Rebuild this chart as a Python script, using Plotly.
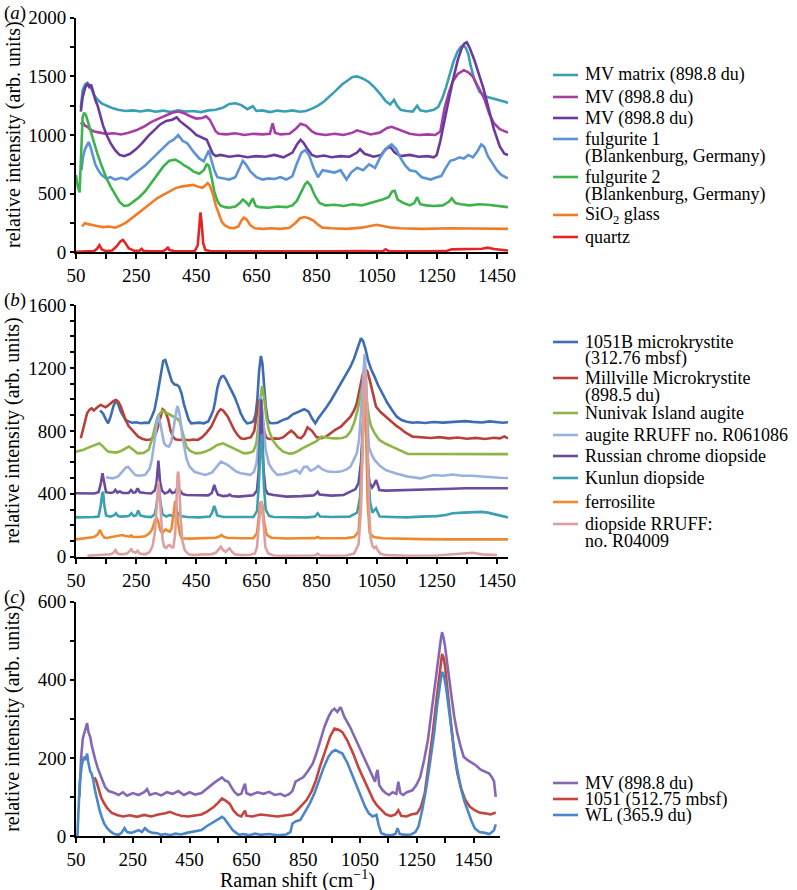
import plotly.graph_objects as go

# ---------------- data ----------------
# Panel (a)
A_NAMES = [["MV matrix (898.8 du)"], ["MV (898.8 du)"], ["MV (898.8 du)"],
           ["fulgurite 1", "(Blankenburg, Germany)"], ["fulgurite 2", "(Blankenburg, Germany)"],
           ["SiO<sub>2</sub> glass"], ["quartz"]]
A_COLORS = ["#3a9fb4", "#a43fa5", "#6b3b9b", "#5c93d4", "#3cb44b", "#f07c29", "#e42526"]

A_MATRIX = [(66,1230),(72,1380),(80,1430),(88,1445),(94,1420),(100,1400),(110,1340),(122,1300),(135,1270),
            (150,1250),(170,1230),(190,1215),(215,1205),(240,1210),(265,1200),(290,1212),(315,1198),(340,1208),
            (365,1195),(390,1210),(415,1200),(440,1205),(465,1195),(490,1210),(515,1215),(540,1235),(560,1265),
            (580,1270),(600,1255),(620,1220),(638,1245),(650,1205),(670,1210),(695,1195),(720,1208),(745,1200),
            (770,1210),(795,1198),(815,1205),(835,1225),(855,1250),(875,1285),(895,1330),(915,1380),(935,1430),
            (955,1470),(970,1495),(985,1500),(1005,1480),(1025,1450),(1045,1400),(1065,1340),(1080,1290),
            (1095,1260),(1108,1300),(1118,1250),(1130,1215),(1150,1205),(1170,1200),(1185,1250),(1195,1210),
            (1215,1200),(1240,1215),(1255,1240),(1268,1310),(1280,1400),(1292,1510),(1305,1620),(1319,1710),
            (1330,1750),(1338,1766),(1346,1745),(1355,1690),(1362,1600),(1375,1470),(1392,1370),(1410,1330),
            (1430,1315),(1450,1300),(1470,1290),(1482,1280),(1487,1270)]
A_MV1 = [(66,1090),(72,1110),(80,1080),(88,1070),(96,1050),(110,1030),(130,1020),(150,1010),(175,1015),
         (200,1005),(225,1020),(250,1040),(275,1070),(300,1110),(325,1140),(350,1170),(370,1190),(390,1200),
         (410,1185),(430,1160),(450,1140),(470,1145),(483,1160),(495,1130),(505,1080),(515,1030),(525,1010),
         (550,1005),(580,1015),(610,1000),(640,1010),(670,1005),(695,1010),(704,1100),(712,1020),(730,1005),
         (760,1010),(780,1050),(797,1095),(815,1080),(835,1030),(850,1010),(880,1000),(910,1010),(940,1000),
         (970,1020),(985,1040),(1000,1030),(1030,1005),(1060,1020),(1085,1060),(1100,1070),(1130,1040),
         (1160,1010),(1190,1000),(1220,1005),(1245,1000),(1262,1030),(1276,1230),(1290,1360),(1303,1455),
         (1320,1520),(1340,1553),(1355,1535),(1371,1495),(1390,1400),(1408,1310),(1425,1180),(1440,1100),
         (1460,1050),(1475,1030),(1487,1020)]
A_MV2 = [(66,1200),(72,1320),(80,1400),(88,1440),(94,1410),(100,1430),(106,1380),(114,1300),(122,1250),
         (130,1170),(140,1080),(152,1000),(165,930),(180,870),(195,830),(210,820),(230,840),(250,880),(270,930),
         (290,990),(310,1040),(330,1090),(350,1120),(370,1130),(385,1150),(395,1120),(410,1090),(430,1050),
         (450,1000),(470,980),(485,960),(495,900),(505,840),(515,820),(530,830),(560,815),(590,825),(620,810),
         (650,820),(680,815),(710,830),(740,810),(770,850),(785,920),(797,960),(808,930),(820,880),(835,830),
         (850,815),(875,825),(900,810),(930,820),(960,815),(985,850),(995,880),(1010,840),(1040,815),(1065,830),
         (1080,880),(1095,900),(1110,850),(1130,820),(1160,830),(1190,815),(1220,820),(1240,810),(1250,830),
         (1262,950),(1275,1100),(1290,1300),(1305,1480),(1320,1640),(1333,1740),(1342,1780),(1350,1790),
         (1360,1740),(1375,1640),(1390,1520),(1405,1400),(1420,1250),(1440,1050),(1460,900),(1475,840),(1487,830)]
A_FUL1 = [(68,700),(74,820),(80,880),(86,910),(92,940),(98,900),(106,820),(114,750),(124,700),(135,660),
          (150,630),(165,640),(180,620),(200,635),(220,620),(240,660),(260,700),(280,740),(300,790),(320,840),
          (340,890),(360,940),(375,960),(390,1000),(405,950),(420,930),(440,860),(460,800),(475,775),(485,840),
          (492,870),(500,790),(510,700),(520,640),(540,630),(560,620),(580,640),(595,720),(605,780),(615,750),
          (630,690),(650,640),(670,620),(690,630),(710,625),(730,640),(750,620),(770,650),(785,760),(800,850),
          (812,870),(825,830),(840,720),(855,640),(870,700),(890,690),(910,680),(930,700),(950,620),(965,680),
          (985,720),(1005,700),(1025,750),(1045,720),(1060,800),(1075,860),(1088,900),(1100,920),(1115,880),
          (1130,800),(1145,740),(1160,700),(1180,690),(1200,640),(1215,630),(1230,620),(1250,640),(1265,650),
          (1280,720),(1295,780),(1310,790),(1325,810),(1340,800),(1355,830),(1370,810),(1385,860),(1398,920),
          (1408,900),(1420,820),(1435,760),(1450,700),(1465,660),(1478,640),(1487,630)]
A_FUL2 = [(50,660),(56,560),(62,510),(67,800),(72,1150),(77,1190),(83,1170),(90,1110),(98,1040),(108,950),
          (120,850),(135,740),(150,640),(165,560),(180,490),(195,430),(210,395),(225,400),(240,430),(260,470),
          (280,520),(300,590),(320,660),(340,730),(360,780),(380,790),(395,770),(410,740),(425,720),(440,690),
          (460,670),(475,700),(485,750),(492,740),(500,650),(510,520),(520,440),(530,400),(545,385),(560,380),
          (580,390),(595,420),(605,450),(615,430),(625,400),(638,460),(648,395),(660,385),(690,380),(720,390),
          (750,385),(770,400),(785,440),(800,520),(812,580),(820,600),(830,570),(845,480),(860,420),(880,400),
          (910,405),(940,395),(970,410),(1000,400),(1030,420),(1055,440),(1070,450),(1090,470),(1102,520),
          (1110,525),(1120,450),(1140,420),(1160,400),(1175,420),(1185,470),(1195,410),(1215,400),(1240,395),
          (1270,400),(1290,430),(1300,460),(1312,420),(1330,410),(1360,400),(1390,410),(1420,405),(1450,395),
          (1470,390),(1487,385)]
A_SIO2 = [(70,220),(80,250),(90,240),(105,235),(120,225),(140,215),(160,220),(180,210),(200,230),(220,260),
          (240,300),(260,340),(280,380),(300,420),(320,460),(340,490),(360,520),(380,545),(400,560),(420,570),
          (440,575),(455,560),(470,550),(480,570),(488,590),(495,570),(505,500),(515,400),(525,320),(535,260),
          (545,230),(560,210),(575,205),(590,220),(600,270),(608,295),(618,280),(630,230),(645,205),(670,200),
          (700,205),(730,200),(760,210),(780,250),(795,290),(810,300),(825,290),(840,270),(855,235),(870,210),
          (900,205),(950,200),(1000,210),(1030,225),(1050,235),(1070,225),(1100,210),(1130,205),(1200,200),
          (1300,205),(1400,200),(1487,200)]
A_QUARTZ = [(50,5),(80,8),(110,10),(120,30),(128,60),(136,25),(150,10),(170,15),(185,50),(198,95),(206,105),
            (214,80),(225,35),(245,12),(262,15),(268,30),(274,12),(300,8),(340,10),(352,30),(356,45),(360,20),
            (380,8),(420,8),(445,10),(455,60),(460,200),(464,340),(468,250),(473,80),(480,20),(500,8),(600,8),
            (700,6),(800,10),(900,8),(1000,10),(1070,8),(1080,25),(1090,10),(1200,8),(1280,10),(1300,25),
            (1350,25),(1400,30),(1420,40),(1440,28),(1470,20),(1487,15)]
A_SERIES = [A_MATRIX, A_MV1, A_MV2, A_FUL1, A_FUL2, A_SIO2, A_QUARTZ]

# Panel (b)
B_NAMES = [["1051B microkrystite", "(312.76 mbsf)"], ["Millville Microkrystite", "(898.5 du)"],
           ["Nunivak Island augite"], ["augite RRUFF no. R061086"], ["Russian chrome diopside"],
           ["Kunlun diopside"], ["ferrosilite"], ["diopside RRUFF:", "no. R04009"]]
B_COLORS = ["#3e6db0", "#b8403b", "#8db646", "#9ab1de", "#6b4c9c", "#3ba0b0", "#ec8a30", "#dda0a0"]

B_1051B = [(130,930),(140,910),(150,870),(157,848),(165,890),(175,960),(183,990),(190,970),(199,922),(207,890),
           (215,869),(225,860),(236,852),(250,855),(265,848),(280,852),(292,850),(302,890),(311,933),(319,1010),
           (327,1102),(334,1190),(340,1245),(347,1250),(353,1208),(361,1160),(369,1113),(378,1095),(386,1092),
           (393,1080),(401,1039),(409,970),(417,912),(425,870),(433,848),(445,850),(460,852),(475,848),(490,860),
           (500,900),(507,933),(513,990),(520,1070),(527,1120),(534,1145),(541,1149),(548,1130),(555,1102),
           (566,1060),(577,1018),(588,965),(598,912),(609,870),(619,848),(630,852),(640,860),(647,900),(653,996),
           (659,1180),(665,1276),(670,1230),(675,1102),(681,960),(688,869),(696,850),(707,848),(720,852),
           (739,870),(755,880),(771,905),(790,922),(809,937),(817,930),(824,920),(835,880),(846,848),(856,880),
           (867,912),(883,950),(899,996),(915,1050),(931,1102),(947,1160),(963,1208),(975,1260),(984,1314),
           (992,1360),(998,1389),(1005,1370),(1013,1320),(1021,1251),(1032,1190),(1043,1145),(1055,1090),
           (1069,1039),(1085,980),(1101,933),(1117,890),(1133,869),(1150,858),(1170,852),(1186,855),(1210,850),
           (1240,856),(1270,852),(1300,855),(1325,858),(1345,862),(1370,857),(1400,853),(1426,860),(1450,855),
           (1470,852),(1487,855)]
B_MILL = [(66,753),(72,800),(80,870),(87,912),(95,935),(102,943),(109,930),(117,945),(124,955),(132,965),
          (140,960),(148,950),(156,960),(165,975),(175,990),(183,996),(191,985),(199,954),(207,910),(215,869),
          (225,830),(236,806),(247,780),(257,763),(270,750),(284,742),(297,745),(311,760),(320,806),(328,870),
          (334,920),(338,937),(343,930),(350,910),(357,870),(364,806),(372,765),(380,746),(395,742),(410,745),
          (425,740),(440,745),(455,742),(470,760),(485,790),(500,827),(513,880),(523,920),(531,937),(539,930),
          (547,910),(555,890),(565,850),(576,806),(587,775),(598,753),(609,748),(620,755),(632,760),(643,800),
          (652,900),(658,990),(663,1000),(667,960),(671,880),(676,800),(682,760),(690,750),(700,748),(712,752),
          (725,750),(740,760),(755,785),(766,801),(776,785),(787,760),(798,753),(809,775),(820,823),(835,800),
          (850,760),(867,753),(883,765),(899,789),(915,810),(931,827),(947,860),(963,890),(975,930),(984,975),
          (991,1040),(997,1102),(1004,1160),(1011,1198),(1019,1180),(1027,1124),(1037,1040),(1048,954),
          (1063,920),(1080,890),(1093,870),(1106,848),(1117,830),(1128,816),(1145,790),(1170,763),(1200,760),
          (1230,755),(1260,760),(1290,752),(1320,758),(1350,750),(1380,755),(1410,748),(1440,756),(1460,752),
          (1475,765),(1487,752)]
B_NUNIVAK = [(50,668),(60,672),(75,680),(87,690),(100,700),(115,712),(128,721),(140,700),(156,668),(170,665),
             (183,662),(200,672),(215,690),(226,700),(240,680),(255,657),(275,660),(292,680),(302,742),(312,820),
             (320,880),(327,905),(338,929),(350,915),(364,901),(378,890),(385,880),(395,860),(405,780),(417,700),
             (430,672),(449,657),(465,660),(481,668),(500,685),(520,710),(539,721),(558,705),(577,689),(595,670),
             (609,657),(625,660),(640,670),(650,720),(656,827),(662,980),(669,1085),(675,1020),(683,890),
             (692,800),(704,742),(720,700),(739,668),(760,655),(771,657),(787,670),(803,689),(820,705),(835,717),
             (850,735),(867,763),(883,757),(899,753),(915,752),(936,755),(950,765),(963,795),(975,850),(987,933),
             (995,1010),(1002,1080),(1008,1100),(1014,1060),(1020,950),(1026,870),(1032,827),(1045,780),
             (1059,742),(1080,718),(1101,700),(1117,685),(1133,668),(1154,653),(1200,653),(1250,652),(1300,654),
             (1350,652),(1400,653),(1450,652),(1487,652)]
B_AUGITE = [(150,505),(165,500),(172,498),(190,510),(205,540),(215,565),(223,572),(235,545),(247,519),(262,515),
            (280,520),(295,560),(302,615),(310,720),(316,806),(323,901),(328,870),(332,827),(338,760),(343,721),
            (351,705),(359,700),(367,730),(374,800),(380,880),(385,940),(388,958),(392,930),(398,860),(404,760),
            (409,700),(418,620),(428,572),(444,540),(460,530),(480,520),(502,535),(518,570),(532,604),(543,595),
            (555,583),(570,560),(585,540),(598,530),(615,525),(630,520),(642,540),(651,600),(658,760),(665,1020),
            (671,900),(676,760),(681,678),(692,590),(704,551),(720,520),(740,525),(760,535),(782,551),(795,530),
            (808,570),(819,572),(830,545),(845,560),(856,577),(870,555),(888,541),(910,538),(931,541),(950,555),
            (963,572),(975,620),(984,657),(992,750),(998,900),(1004,1100),(1010,1290),(1015,1150),(1019,900),
            (1024,700),(1033,650),(1043,615),(1060,580),(1080,551),(1112,530),(1154,509),(1197,498),(1240,519),
            (1270,515),(1303,522),(1335,515),(1367,515),(1400,510),(1426,505),(1460,502),(1487,500)]
B_RUSSIAN = [(50,403),(70,402),(90,400),(110,402),(125,410),(132,460),(138,530),(144,460),(150,410),(165,405),
             (175,410),(181,425),(188,408),(196,415),(205,405),(225,405),(233,424),(240,408),(248,410),(255,435),
             (262,410),(280,405),(300,402),(312,420),(318,470),(324,611),(330,470),(336,420),(345,402),(356,410),
             (362,425),(370,405),(380,410),(385,430),(390,440),(396,420),(405,398),(417,392),(440,390),(470,388),
             (490,390),(502,405),(506,430),(510,456),(515,425),(522,395),(540,385),(555,388),(561,395),(568,386),
             (590,382),(620,385),(640,390),(652,420),(658,550),(663,800),(666,1000),(669,800),(674,550),(680,430),
             (688,400),(707,392),(730,385),(750,382),(800,385),(840,390),(848,400),(854,413),(860,395),(900,388),
             (940,392),(963,413),(980,430),(990,470),(998,600),(1005,850),(1010,1000),(1015,850),(1020,600),
             (1026,470),(1035,440),(1042,460),(1048,488),(1054,455),(1059,424),(1080,420),(1133,424),(1186,426),
             (1240,428),(1300,432),(1346,435),(1400,435),(1450,434),(1487,435)]
B_KUNLUN = [(50,250),(80,250),(110,252),(125,255),(132,320),(137,400),(140,413),(144,330),(150,262),(165,255),
            (176,262),(183,276),(190,258),(200,255),(226,258),(234,276),(242,258),(250,262),(257,293),(264,262),
            (280,255),(300,252),(312,270),(318,330),(322,400),(327,420),(332,330),(338,270),(350,255),(358,262),
            (364,265),(372,255),(383,262),(390,276),(397,258),(420,252),(460,250),(495,255),(503,280),(508,315),
            (510,322),(514,300),(520,262),(540,252),(600,250),(640,252),(652,290),(658,450),(664,700),(667,780),
            (670,700),(675,450),(681,300),(692,260),(707,252),(760,250),(820,250),(845,255),(854,276),(862,255),
            (900,252),(960,255),(985,280),(995,380),(1002,700),(1008,1000),(1012,1150),(1016,950),(1021,600),
            (1028,350),(1036,280),(1042,295),(1048,307),(1054,280),(1060,255),(1100,252),(1150,250),(1200,255),
            (1250,258),(1280,265),(1303,276),(1340,280),(1370,282),(1400,285),(1420,280),(1445,268),(1470,255),
            (1487,250)]
B_FERRO = [(50,110),(70,115),(90,120),(110,125),(122,140),(130,170),(137,140),(145,120),(160,122),(175,128),
           (190,132),(204,138),(215,132),(228,128),(234,135),(240,125),(260,125),(280,130),(295,150),(302,170),
           (308,200),(313,233),(318,245),(323,225),(330,170),(337,148),(343,165),(348,174),(355,165),(362,160),
           (368,180),(372,240),(376,320),(380,355),(384,320),(389,220),(395,150),(401,117),(430,115),(470,117),
           (500,118),(515,120),(528,130),(534,138),(540,128),(552,120),(600,117),(640,118),(652,150),(658,250),
           (663,340),(667,350),(671,320),(676,220),(684,140),(700,120),(750,116),(800,117),(845,118),(854,125),
           (862,118),(900,117),(950,118),(975,125),(990,160),(998,400),(1005,900),(1010,1100),(1015,800),
           (1020,350),(1027,150),(1040,125),(1070,117),(1100,115),(1150,113),(1200,112),(1300,110),(1400,110),
           (1487,110)]
B_DIOPSIDE = [(88,5),(110,8),(130,10),(150,12),(165,15),(175,25),(181,42),(188,20),(200,15),(220,20),(228,35),
              (234,47),(240,30),(248,25),(255,38),(262,20),(280,15),(295,30),(305,70),(312,150),(318,300),
              (322,430),(324,477),(327,420),(332,250),(338,110),(343,64),(350,55),(356,70),(362,74),(368,60),
              (374,60),(380,150),(384,380),(388,520),(390,541),(393,480),(398,250),(404,100),(412,40),(425,15),
              (440,10),(470,15),(500,15),(515,25),(526,50),(532,64),(538,45),(548,30),(555,45),(561,53),(567,35),
              (578,15),(600,10),(630,12),(645,20),(652,60),(658,200),(663,330),(666,350),(669,320),(674,180),
              (680,60),(690,20),(707,8),(750,6),(800,5),(845,8),(854,20),(862,8),(900,6),(950,8),(975,20),(990,80),
              (998,300),(1003,700),(1008,1050),(1012,1176),(1016,1050),(1020,700),(1025,300),(1030,120),(1036,70),
              (1042,55),(1048,64),(1054,40),(1062,20),(1080,10),(1150,6),(1250,8),(1300,15),(1340,20),(1370,25),
              (1400,15),(1430,10),(1450,10)]
B_SERIES = [B_1051B, B_MILL, B_NUNIVAK, B_AUGITE, B_RUSSIAN, B_KUNLUN, B_FERRO, B_DIOPSIDE]

# Panel (c)
C_NAMES = [["MV (898.8 du)"], ["1051 (512.75 mbsf)"], ["WL (365.9 du)"]]
C_COLORS = ["#8568b4", "#c2463f", "#4b87c8"]
C_MV = [(62,100),(68,200),(74,250),(79,262),(84,280),(89,289),(94,265),(100,254),(106,230),(112,210),(118,195),
        (126,175),(134,160),(142,140),(152,126),(165,115),(183,111),(200,105),(215,112),(230,103),(250,110),
        (270,105),(290,112),(300,120),(310,105),(330,110),(350,104),(370,112),(390,108),(410,115),(430,105),
        (450,112),(470,106),(492,110),(505,118),(520,125),(536,136),(550,143),(564,150),(575,142),(586,139),
        (597,125),(608,113),(620,105),(632,108),(640,125),(645,134),(650,110),(665,105),(690,112),(710,108),
        (730,113),(750,105),(770,108),(785,102),(800,107),(812,115),(823,139),(837,145),(851,151),(868,168),
        (884,186),(898,215),(911,245),(925,280),(939,305),(950,320),(960,326),(970,318),(982,330),(995,305),
        (1015,279),(1030,255),(1048,228),(1065,200),(1081,177),(1095,150),(1103,139),(1108,160),(1112,169),
        (1118,130),(1130,117),(1140,110),(1152,105),(1165,112),(1178,108),(1185,139),(1192,110),(1202,105),
        (1215,112),(1234,117),(1248,130),(1262,151),(1276,195),(1289,245),(1300,310),(1311,373),(1320,430),
        (1328,466),(1334,500),(1339,522),(1345,505),(1350,483),(1360,420),(1371,364),(1382,305),(1393,262),
        (1404,230),(1415,203),(1428,195),(1440,190),(1448,186),(1460,180),(1475,170),(1490,165),(1505,160),
        (1515,150),(1522,140),(1528,100)]
C_1051 = [(115,150),(122,140),(130,120),(138,100),(148,85),(160,71),(175,60),(194,54),(215,50),(240,53),(265,49),
          (290,54),(315,50),(340,55),(365,58),(381,62),(400,56),(420,52),(445,50),(470,53),(492,55),(510,62),
          (525,70),(536,75),(550,85),(564,96),(578,90),(591,83),(605,65),(619,54),(632,50),(640,60),(645,65),
          (650,52),(670,50),(700,55),(730,52),(760,50),(790,53),(810,55),(829,66),(845,78),(862,92),(880,115),
          (895,143),(910,180),(928,220),(945,255),(960,275),(975,272),(988,266),(1005,245),(1026,211),(1045,175),
          (1065,143),(1081,115),(1097,92),(1110,78),(1125,66),(1140,56),(1158,51),(1175,55),(1185,66),(1195,52),
          (1213,50),(1230,55),(1251,58),(1265,75),(1278,109),(1292,180),(1306,262),(1318,340),(1328,407),
          (1334,445),(1339,466),(1345,455),(1350,432),(1360,360),(1371,279),(1382,210),(1393,160),(1407,120),
          (1421,92),(1437,75),(1454,66),(1470,60),(1490,58),(1510,55),(1528,60)]
C_WL = [(55,0),(60,80),(63,134),(70,180),(78,203),(84,195),(89,211),(93,190),(96,177),(100,165),(105,160),
        (111,143),(116,120),(122,100),(128,80),(133,66),(140,50),(149,32),(160,20),(172,11),(185,5),(200,3),
        (210,8),(221,20),(230,10),(245,8),(260,12),(271,15),(282,10),(293,20),(305,12),(320,8),(337,7),(350,3),
        (365,5),(380,2),(400,6),(420,4),(440,8),(460,10),(475,12),(492,15),(510,25),(525,32),(536,38),(547,41),
        (556,45),(564,49),(572,45),(580,37),(591,25),(602,15),(614,8),(625,3),(640,5),(660,2),(680,6),(700,3),
        (730,5),(760,2),(790,4),(805,10),(812,32),(825,38),(840,41),(856,60),(873,83),(890,110),(906,143),
        (922,175),(939,203),(951,215),(963,220),(975,215),(988,211),(1005,188),(1021,160),(1038,130),(1054,100),
        (1068,75),(1081,58),(1095,50),(1108,54),(1115,30),(1125,7),(1140,3),(1160,2),(1175,5),(1182,20),
        (1190,5),(1210,3),(1230,4),(1245,10),(1256,24),(1270,70),(1284,126),(1297,190),(1311,262),(1321,330),
        (1331,390),(1337,415),(1341,420),(1347,405),(1353,381),(1365,310),(1377,245),(1390,180),(1404,126),
        (1418,88),(1432,58),(1443,38),(1454,20),(1470,10),(1490,8),(1505,5),(1515,10),(1522,15),(1528,30)]
C_SERIES = [C_MV, C_1051, C_WL]

Y_TITLE = "relative intensity (arb. units)"
X_TITLE = "Raman shift (cm<sup>\u22121</sup>)"
PANEL_LABELS = ["(<i>a</i>)", "(<i>b</i>)", "(<i>c</i>)"]

# legend rows (pixel centre of each entry's first text line) for the three panels
LEG_ROWS_A = [75, 97, 118, 139, 177, 215, 237]
LEG_ROWS_B = [342, 378, 413, 435, 456, 478, 502, 524]
LEG_ROWS_C = [783, 799, 815]
LEG_LINE_GAP = 17

# ---------------- layout ----------------
W, H = 797, 890
FONT = "Liberation Serif"


def fx(p):
    return p / W


def fy(p):
    return 1 - p / H


fig = go.Figure()

panels = [
    dict(series=A_SERIES, names=A_NAMES, colors=A_COLORS, xref="x", yref="y", rows=LEG_ROWS_A),
    dict(series=B_SERIES, names=B_NAMES, colors=B_COLORS, xref="x2", yref="y2", rows=LEG_ROWS_B),
    dict(series=C_SERIES, names=C_NAMES, colors=C_COLORS, xref="x3", yref="y3", rows=LEG_ROWS_C),
]
annotations = []
shapes = []
for p in panels:
    for data, name, col, row in zip(p["series"], p["names"], p["colors"], p["rows"]):
        fig.add_trace(go.Scatter(
            x=[d[0] for d in data], y=[d[1] for d in data], mode="lines", name=" ".join(name),
            line=dict(color=col, width=2.6), xaxis=p["xref"], yaxis=p["yref"],
            hoverinfo="skip", showlegend=False))
        # legend key + text
        shapes.append(dict(type="line", xref="paper", yref="paper", x0=fx(553), x1=fx(578),
                           y0=fy(row), y1=fy(row), line=dict(color=col, width=2.6)))
        for k, txt in enumerate(name):
            annotations.append(dict(text=txt, x=fx(583), y=fy(row + k * LEG_LINE_GAP), xref="paper",
                                    yref="paper", xanchor="left", yanchor="middle", showarrow=False,
                                    font=dict(family=FONT, size=18, color="black")))

tickfont = dict(family=FONT, size=19, color="black")


def xax(domain_px, rng, anchor):
    return dict(domain=[fx(domain_px[0]), fx(domain_px[1])], range=rng, anchor=anchor,
                tickmode="linear", tick0=50, dtick=200, ticks="outside", ticklen=5, tickwidth=1.5,
                tickcolor="black", showline=True, linecolor="black", linewidth=2, showgrid=False,
                zeroline=False, tickfont=tickfont, fixedrange=True,
                minor=dict(tick0=50, dtick=100, ticks="outside", ticklen=5, tickwidth=1.5,
                           tickcolor="black", showgrid=False))


def yax(domain_px, rng, dtick, minor, anchor):
    return dict(domain=[fy(domain_px[1]), fy(domain_px[0])], range=rng, anchor=anchor,
                tickmode="linear", tick0=0, dtick=dtick, ticks="outside", ticklen=4, tickwidth=1.5,
                tickcolor="black", showline=True, linecolor="black", linewidth=2, showgrid=False,
                zeroline=False, tickfont=tickfont, fixedrange=True,
                minor=dict(tick0=0, dtick=minor, ticks="outside", ticklen=4, tickwidth=1.5,
                           tickcolor="black", showgrid=False))


panel_tops = [17.7, 305, 601.7]
panel_bottoms = [252.3, 556.7, 836]
for lab, top, bot in zip(PANEL_LABELS, panel_tops, panel_bottoms):
    annotations.append(dict(text=lab, x=fx(2), y=fy(top - 5), xref="paper", yref="paper",
                            xanchor="left", yanchor="middle", showarrow=False,
                            font=dict(family=FONT, size=19, color="black")))
    annotations.append(dict(text=Y_TITLE, x=fx(13), y=fy((top + bot) / 2), xref="paper", yref="paper",
                            xanchor="center", yanchor="middle", textangle=-90, showarrow=False,
                            font=dict(family=FONT, size=20, color="black")))
annotations.append(dict(text=X_TITLE, x=fx(297), y=fy(879), xref="paper", yref="paper",
                        xanchor="center", yanchor="middle", showarrow=False,
                        font=dict(family=FONT, size=20, color="black")))

fig.update_layout(
    width=W, height=H, margin=dict(l=0, r=0, t=0, b=0, autoexpand=False),
    paper_bgcolor="white", plot_bgcolor="white", showlegend=False,
    font=dict(family=FONT, color="black"),
    xaxis=xax((76, 508), [50, 1487], "y"),
    yaxis=yax((17.7, 252.3), [0, 2000], 500, 250, "x"),
    xaxis2=xax((76, 508), [50, 1487], "y2"),
    yaxis2=yax((305, 556.7), [0, 1600], 400, 100, "x2"),
    xaxis3=xax((76, 500), [50, 1543], "y3"),
    yaxis3=yax((601.7, 836), [0, 600], 200, 100, "x3"),
    annotations=annotations,
    shapes=shapes,
)

fig.write_html("out.html", config={"displayModeBar": False},
               post_script="document.body.style.margin='0';")
